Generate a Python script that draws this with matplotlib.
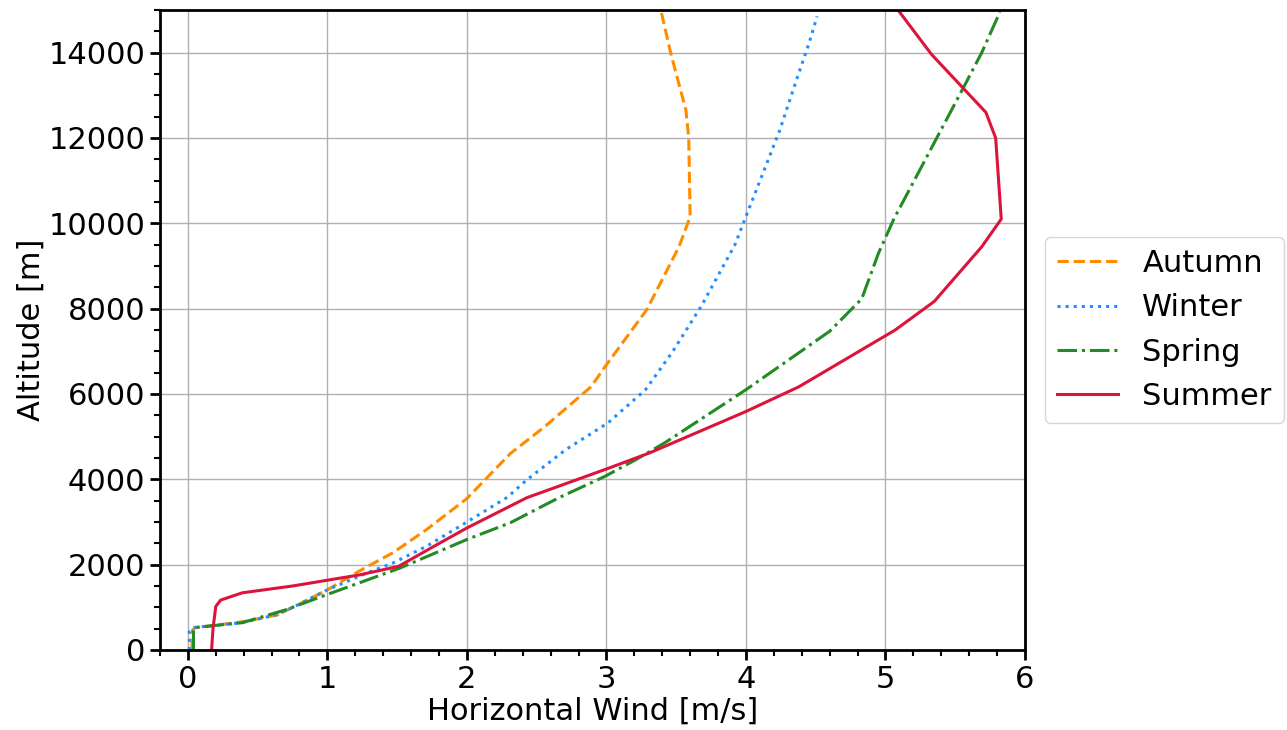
import matplotlib
matplotlib.use("Agg")
import matplotlib.pyplot as plt
from matplotlib.ticker import MultipleLocator

# Data (wind speed [m/s], altitude [m])
autumn_x = [0.03, 0.03, 0.05, 0.39, 0.64, 0.79, 1.0, 1.22, 1.47, 1.71, 2.0, 2.31, 2.56, 2.89, 2.99, 3.29, 3.52, 3.60, 3.59, 3.57, 3.46, 3.39]
autumn_y = [0, 450, 520, 660, 820, 1060, 1410, 1835, 2280, 2820, 3550, 4600, 5240, 6170, 6640, 7980, 9450, 10150, 12000, 12650, 14000, 15000]

winter_x = [0.01, 0.01, 0.05, 0.39, 0.64, 0.79, 1.0, 1.28, 1.47, 1.71, 1.95, 2.29, 2.43, 2.71, 3.01, 3.28, 3.47, 3.68, 3.92, 4.0, 4.24, 4.36, 4.45, 4.51]
winter_y = [0, 430, 530, 640, 830, 1060, 1410, 1800, 2040, 2430, 2900, 3580, 3990, 4700, 5320, 6100, 6970, 8060, 9490, 10160, 12160, 13340, 14200, 14850]

spring_x = [0.04, 0.04, 0.06, 0.39, 0.70, 0.99, 1.52, 2.0, 2.31, 2.66, 2.99, 3.21, 3.42, 4.0, 4.6, 4.83, 4.95, 5.06, 5.57, 5.69, 5.82]
spring_y = [0, 480, 530, 640, 940, 1290, 1920, 2590, 2980, 3570, 4070, 4460, 4860, 6100, 7470, 8230, 9300, 10100, 13250, 14000, 14950]

summer_x = [0.17, 0.18, 0.2, 0.235, 0.39, 0.75, 1.23, 1.51, 1.78, 2.0, 2.43, 2.99, 3.31, 4.0, 4.38, 5.07, 5.35, 5.69, 5.83, 5.79, 5.72, 5.33, 5.09]
summer_y = [0, 500, 1020, 1170, 1340, 1500, 1760, 1960, 2460, 2860, 3570, 4230, 4620, 5590, 6170, 7500, 8170, 9450, 10100, 12000, 12600, 13960, 15000]

seasons = ["Autumn", "Winter", "Spring", "Summer"]
colors = ["darkorange", "dodgerblue", "forestgreen", "crimson"]
styles = ["--", ":", "-.", "-"]
xs = [autumn_x, winter_x, spring_x, summer_x]
ys = [autumn_y, winter_y, spring_y, summer_y]

fig = plt.figure(figsize=(12.87, 7.30), dpi=100)
ax = fig.add_axes([0.1243, 0.1096, 0.6721, 0.8767])

for x, y, lab, c, ls in zip(xs, ys, seasons, colors, styles):
    ax.plot(x, y, ls, color=c, lw=2.2, label=lab)

ax.set_xlim(-0.2, 6)
ax.set_ylim(0, 15000)
ax.xaxis.set_major_locator(MultipleLocator(1))
ax.xaxis.set_minor_locator(MultipleLocator(0.2))
ax.yaxis.set_major_locator(MultipleLocator(2000))
ax.yaxis.set_minor_locator(MultipleLocator(500))
ax.grid(True, which="major", color="#b0b0b0", lw=1)
ax.tick_params(which="major", labelsize=22, length=7, width=2)
ax.tick_params(which="minor", length=4, width=1.5)
for s in ax.spines.values():
    s.set_linewidth(2)

ax.set_xlabel("Horizontal Wind [m/s]", fontsize=22, labelpad=2)
ax.set_ylabel("Altitude [m]", fontsize=22, labelpad=2)

ax.legend(loc="center left", bbox_to_anchor=(1.005, 0.5), fontsize=22)

fig.savefig("out.png", dpi=100)
